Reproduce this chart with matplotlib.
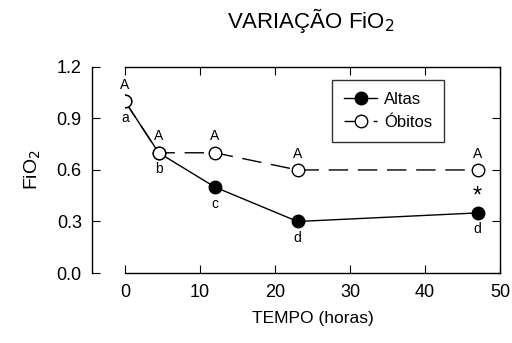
import matplotlib
matplotlib.use('Agg')
import matplotlib.pyplot as plt

plt.rcParams['font.family'] = ['Liberation Sans', 'DejaVu Sans']

tempo = [0, 4.5, 12, 23, 47]
altas = [1.0, 0.7, 0.5, 0.3, 0.35]
obitos = [1.0, 0.7, 0.7, 0.6, 0.6]
letras_obitos = ['A', 'A', 'A', 'A', 'A']
letras_tempo = ['a', 'b', 'c', 'd', 'd']

fig = plt.figure(figsize=(5.12, 3.43), dpi=100)
ax = fig.add_axes([0.244, 0.204, 0.733, 0.601])

ax.plot(tempo, altas, '-', color='black', lw=1, marker='o', ms=9,
        mfc='black', mec='black', label='Altas', zorder=2)
ax.plot(tempo, obitos, color='black', lw=1, dashes=(14, 7), marker='o', ms=9,
        mfc='white', mec='black', label='Óbitos', zorder=3)

for t, v, s in zip(tempo, obitos, letras_obitos):
    ax.text(t, v + 0.055, s, ha='center', va='bottom', fontsize=10)
for i, (t, s) in enumerate(zip(tempo, letras_tempo)):
    v = min(altas[i], obitos[i])
    ax.text(t, v - 0.055, s, ha='center', va='top', fontsize=10)
ax.text(tempo[-1], altas[-1] + 0.03, '*', ha='center', va='bottom', fontsize=17)

ax.set_xlim(0, 50)
ax.set_ylim(0, 1.2)
ax.set_xticks([0, 10, 20, 30, 40, 50])
ax.set_yticks([0.0, 0.3, 0.6, 0.9, 1.2])
ax.set_yticklabels(['0.0', '0.3', '0.6', '0.9', '1.2'])
ax.spines['left'].set_position(('outward', 24))
for s in ax.spines.values():
    s.set_linewidth(1)
ax.tick_params(direction='in', top=True, right=True, labelsize=13, length=6)
ax.tick_params(axis='x', pad=8)
ax.tick_params(axis='y', pad=7)

ax.set_xlabel('TEMPO (horas)', fontsize=12.5, labelpad=7)
ax.set_ylabel('FiO$_2$', fontsize=14, labelpad=10)
fig.text(0.607, 0.94, 'VARIAÇÃO FiO$_2$', ha='center', va='center', fontsize=16)

leg = ax.legend(loc='upper right', bbox_to_anchor=(0.85, 0.937), borderaxespad=0,
                fontsize=12, frameon=True, fancybox=False, edgecolor='black',
                handlelength=2.0, borderpad=0.7, labelspacing=0.5, handletextpad=0.4)
leg.get_frame().set_linewidth(1)

fig.savefig('out.png', dpi=100)
